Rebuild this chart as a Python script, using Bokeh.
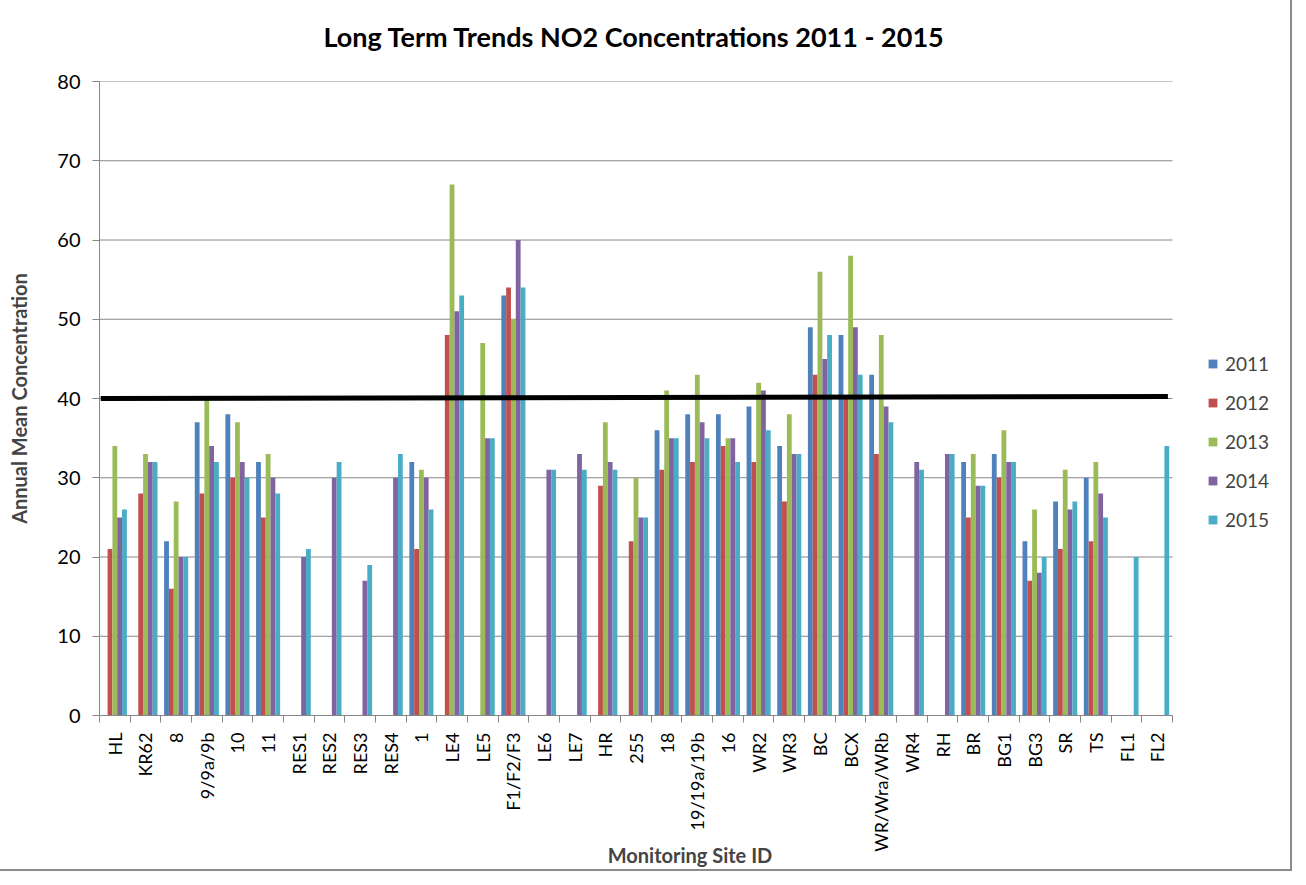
from bokeh.plotting import figure
from bokeh.models import Range1d, FixedTicker, ColumnDataSource, Legend, LegendItem, Title
from bokeh.embed import file_html
from bokeh.resources import INLINE

sites = ["HL", "KR62", "8", "9/9a/9b", "10", "11", "RES1", "RES2", "RES3", "RES4",
         "1", "LE4", "LE5", "F1/F2/F3", "LE6", "LE7", "HR", "255", "18", "19/19a/19b",
         "16", "WR2", "WR3", "BC", "BCX", "WR/Wra/WRb", "WR4", "RH", "BR", "BG1",
         "BG3", "SR", "TS", "FL1", "FL2"]

y2011 = [None, None, 22, 37, 38, 32, None, None, None, None,
         32, None, None, 53, None, None, None, None, 36, 38,
         38, 39, 34, 49, 48, 43, None, None, 32, 33,
         22, 27, 30, None, None]
y2012 = [21, 28, 16, 28, 30, 25, None, None, None, None,
         21, 48, None, 54, None, None, 29, 22, 31, 32,
         34, 32, 27, 43, 40, 33, None, None, 25, 30,
         17, 21, 22, None, None]
y2013 = [34, 33, 27, 40, 37, 33, None, None, None, None,
         31, 67, 47, 50, None, None, 37, 30, 41, 43,
         35, 42, 38, 56, 58, 48, None, None, 33, 36,
         26, 31, 32, None, None]
y2014 = [25, 32, 20, 34, 32, 30, 20, 30, 17, 30,
         30, 51, 35, 60, 31, 33, 32, 25, 35, 37,
         35, 41, 33, 45, 49, 39, 32, 33, 29, 32,
         18, 26, 28, None, None]
y2015 = [26, 32, 20, 32, 30, 28, 21, 32, 19, 33,
         26, 53, 35, 54, 31, 31, 31, 25, 35, 35,
         32, 36, 33, 48, 43, 37, 31, 33, 29, 32,
         20, 27, 25, 20, 34]

years = ["2011", "2012", "2013", "2014", "2015"]
colors = ["#4F81BD", "#C0504D", "#9BBB59", "#8064A2", "#4BACC6"]
series = [y2011, y2012, y2013, y2014, y2015]

limit_value = [40.0, 40.25]   # the drawn limit line (slightly tilted in the source)
y_ticks = [0, 10, 20, 30, 40, 50, 60, 70, 80]

FONT = "Lato"
GRID = "#868686"

n = len(sites)
W, H = 1290, 869
LEFT, RIGHT, TOP, BOTTOM = 99, 10, 81, 154
px_per_cat = 1073 / n
x_end = (W - LEFT - RIGHT) / px_per_cat   # room on the right of the categories for the legend

p = figure(width=W, height=H, output_backend="svg", toolbar_location=None,
           x_range=Range1d(0, x_end), y_range=Range1d(0, 80),
           min_border_left=LEFT, min_border_right=RIGHT, min_border_top=TOP,
           min_border_bottom=BOTTOM)
p.styles = {"outline": "2px solid #8c8c8c"}
p.outline_line_color = None
p.background_fill_color = "white"
p.border_fill_color = "white"

# small spacer next to the frame, then the real title further up
spacer = Title(text=" ", text_font_size="6px", standoff=0)
p.add_layout(spacer, "above")
main_title = Title(text="Long Term Trends NO2 Concentrations 2011 - 2015",
                   align="left", offset=224, vertical_align="top",
                   text_font=FONT, text_font_size="27px", text_font_style="bold",
                   text_color="black", standoff=38)
p.add_layout(main_title, "above")

# horizontal gridlines limited to the category area
p.segment(x0=[0] * len(y_ticks), x1=[n] * len(y_ticks), y0=y_ticks, y1=y_ticks,
          line_color=GRID, line_width=1)

bw = 0.157
renderers = []
for k, (yr, col, vals) in enumerate(zip(years, colors, series)):
    xs = [i + 0.5 + (k - 2) * bw for i, v in enumerate(vals) if v is not None]
    tops = [v for v in vals if v is not None]
    src = ColumnDataSource(dict(x=xs, top=tops))
    r = p.vbar(x="x", top="top", width=bw, bottom=0, source=src,
               fill_color=col, line_color=None)
    renderers.append(r)

p.line(x=[0.04, n - 0.15], y=limit_value, line_color="black", line_width=5)

# Y axis
p.yaxis.ticker = FixedTicker(ticks=y_ticks)
p.yaxis.minor_tick_line_color = None
p.yaxis.major_tick_in = 0
p.yaxis.major_tick_out = 7
p.yaxis.major_tick_line_color = GRID
p.yaxis.axis_line_color = GRID
p.yaxis.major_label_text_font = FONT
p.yaxis.major_label_text_font_size = "20px"
p.yaxis.major_label_text_color = "black"
p.yaxis.major_label_standoff = 12
p.yaxis.axis_label = "Annual Mean Concentration"
p.yaxis.axis_label_text_font = FONT
p.yaxis.axis_label_text_font_size = "20px"
p.yaxis.axis_label_text_font_style = "bold"
p.yaxis.axis_label_standoff = 23
p.ygrid.grid_line_color = None
p.xgrid.grid_line_color = None

# X axis
centers = [i + 0.5 for i in range(n)]
bounds = [i for i in range(n + 1)]
p.xaxis.bounds = (0, n)
p.xaxis.ticker = FixedTicker(ticks=centers, minor_ticks=bounds)
p.xaxis.major_label_overrides = {c: s for c, s in zip(centers, sites)}
p.xaxis.major_tick_out = 0
p.xaxis.major_tick_in = 0
p.xaxis.minor_tick_out = 7
p.xaxis.minor_tick_in = 0
p.xaxis.minor_tick_line_color = GRID
p.xaxis.axis_line_color = GRID
p.xaxis.major_label_orientation = 1.5708
p.xaxis.major_label_text_font = FONT
p.xaxis.major_label_text_font_size = "18px"
p.xaxis.major_label_text_color = "black"
p.xaxis.major_label_standoff = 10
p.xaxis.axis_label = "Monitoring Site ID"
p.xaxis.axis_label_text_font = FONT
p.xaxis.axis_label_text_font_size = "20px"
p.xaxis.axis_label_text_font_style = "bold"
p.xaxis.axis_label_standoff = -12

legend = Legend(items=[LegendItem(label=y, renderers=[r]) for y, r in zip(years, renderers)],
                location=(1108, 184))
legend.border_line_color = None
legend.background_fill_alpha = 0
legend.label_text_font = FONT
legend.label_text_font_size = "19px"
legend.label_height = 22
legend.glyph_width = 11
legend.glyph_height = 11
legend.label_standoff = 7
legend.spacing = 16
legend.padding = 4
legend.margin = 0
p.add_layout(legend)

open("out.html", "w").write(file_html(p, INLINE))
